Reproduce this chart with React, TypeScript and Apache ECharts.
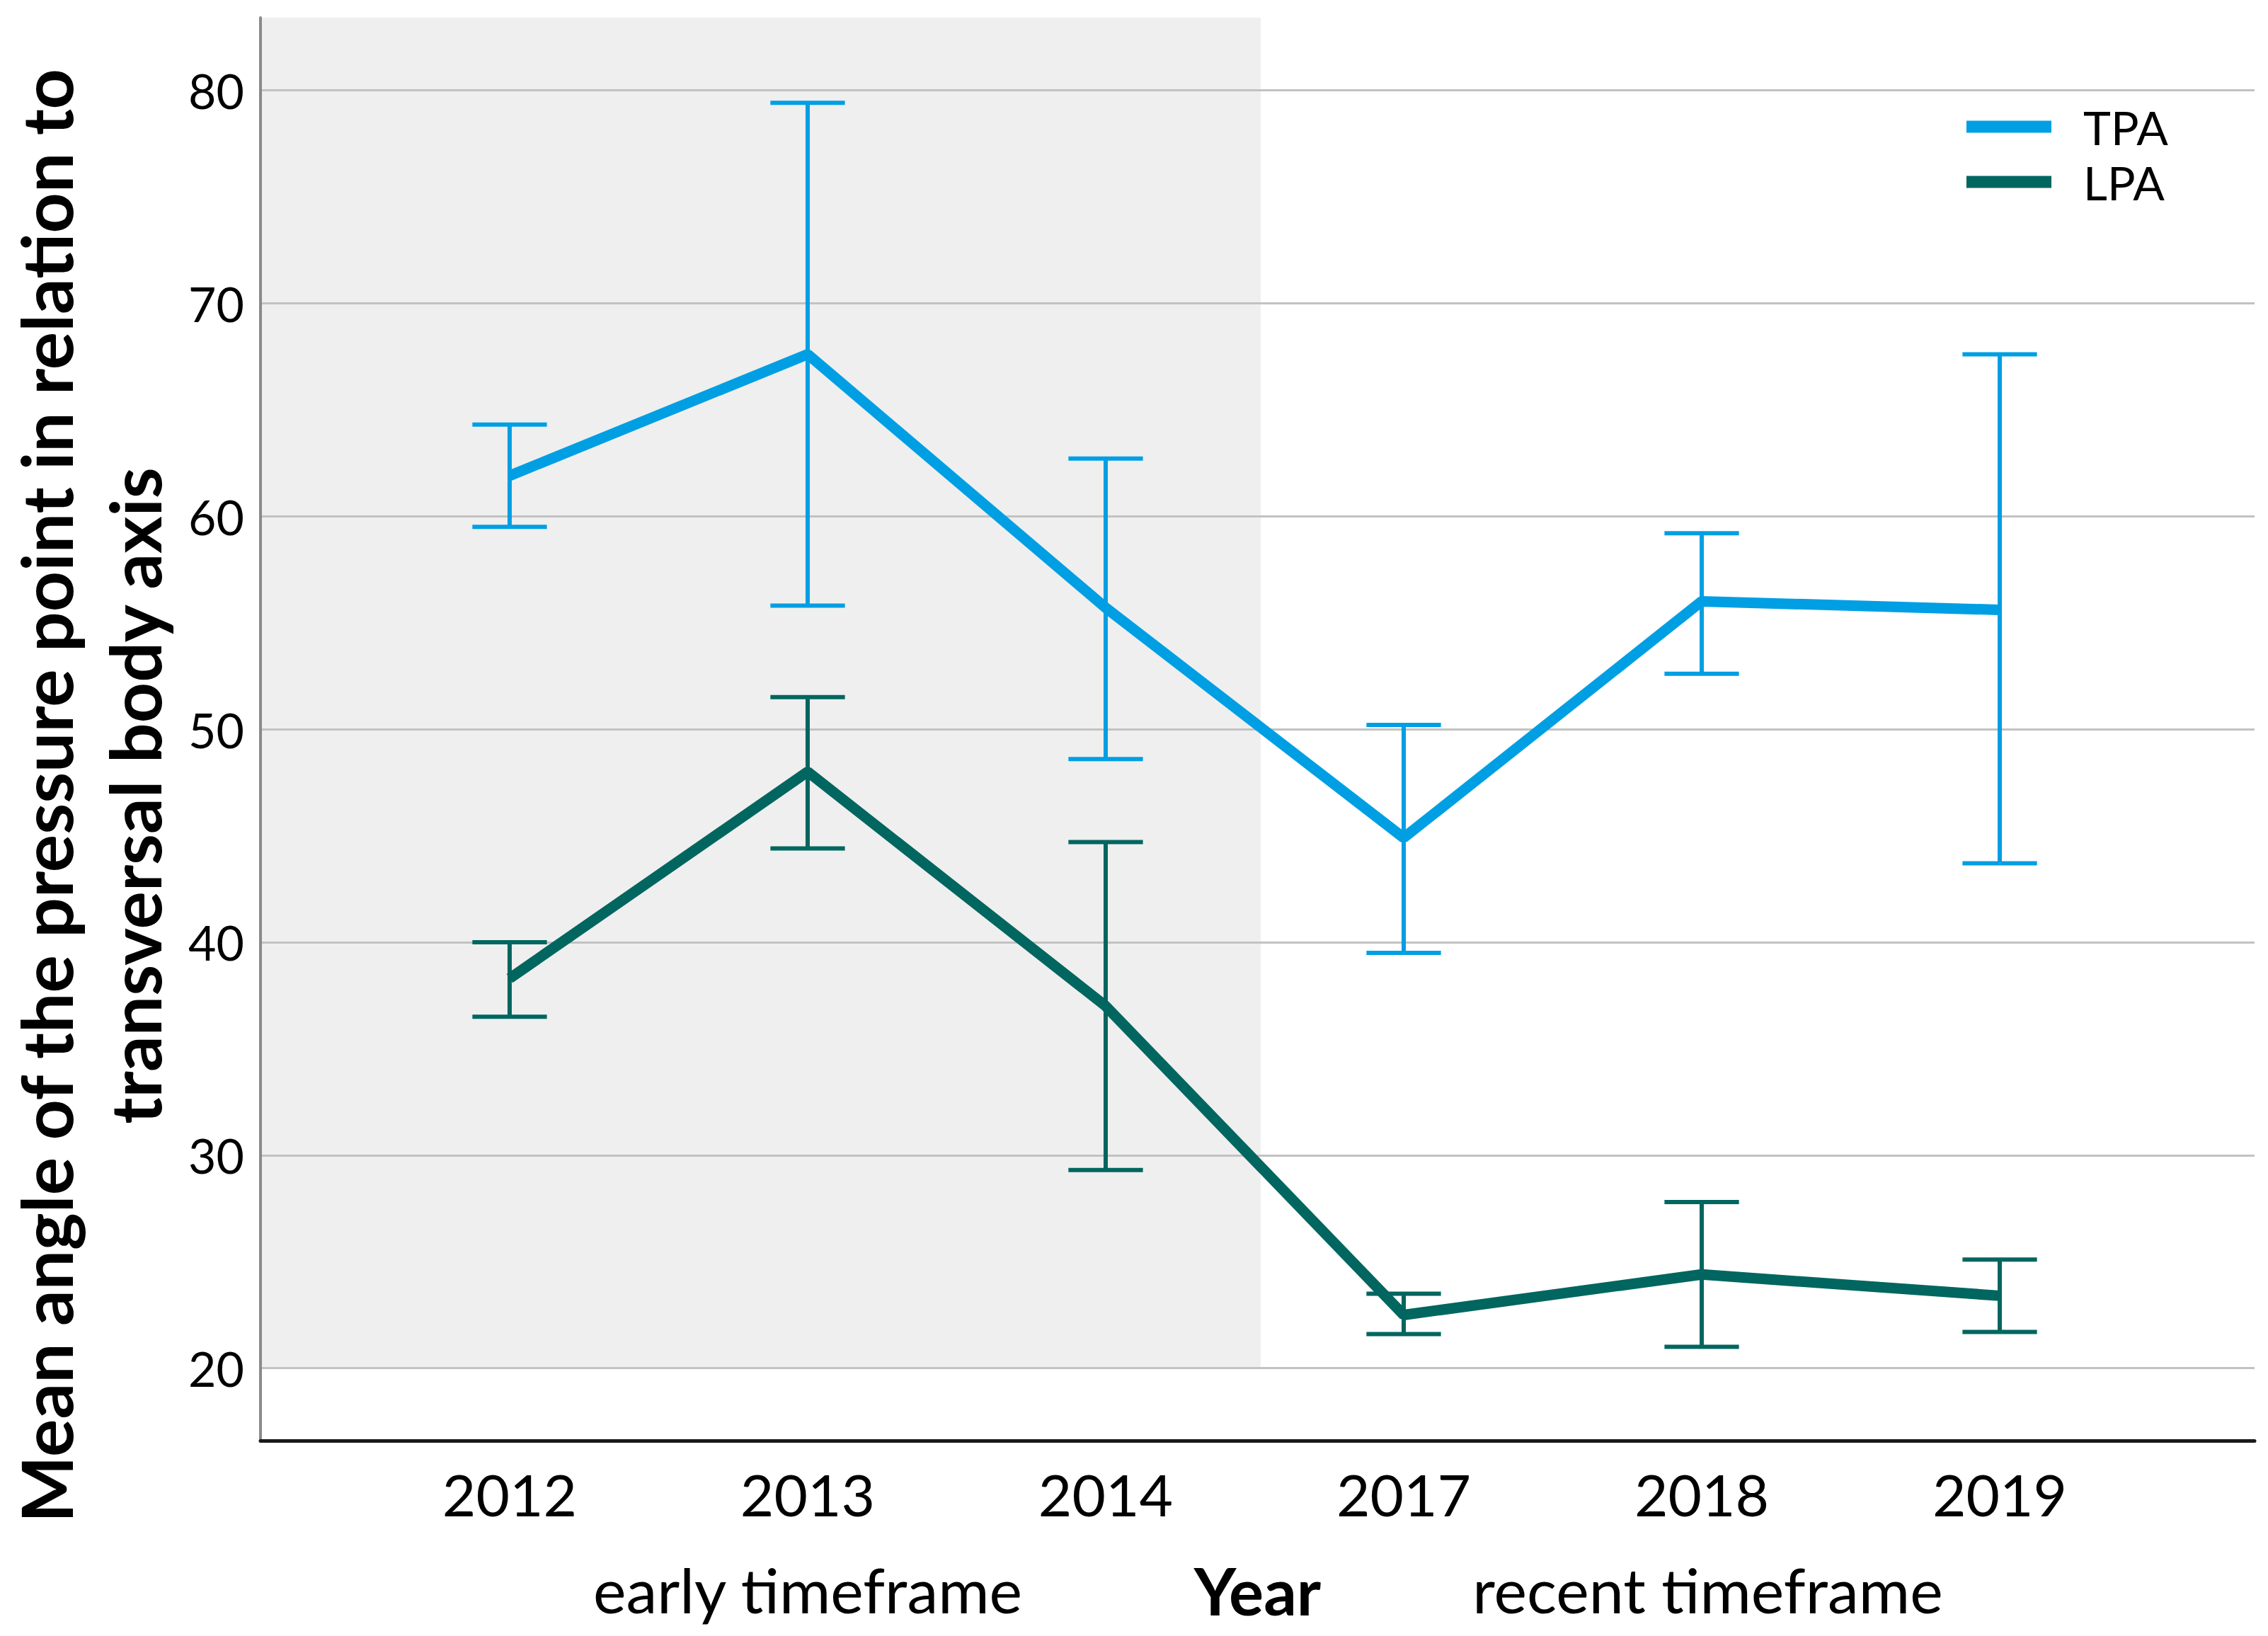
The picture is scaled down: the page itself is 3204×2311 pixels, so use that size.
import React, { useEffect, useRef } from "react";
import * as echarts from "echarts";

const YEARS = ["2012", "2013", "2014", "2017", "2018", "2019"];
const TIMEFRAMES = ["early timeframe", "recent timeframe"];
const Y_TICKS = [20, 30, 40, 50, 60, 70, 80];

const TPA_MEAN = [61.9, 67.6, 55.7, 44.9, 56.0, 55.6];
const TPA_LOW = [59.5, 55.8, 48.6, 39.5, 52.6, 43.7];
const TPA_HIGH = [64.3, 79.4, 62.7, 50.2, 59.2, 67.6];

const LPA_MEAN = [38.3, 48.0, 37.0, 22.5, 24.4, 23.4];
const LPA_LOW = [36.5, 44.4, 29.3, 21.6, 21.0, 21.7];
const LPA_HIGH = [40.0, 51.5, 44.7, 23.5, 27.8, 25.1];

const Y_TITLE = [
  "Mean angle of the pressure point in relation to",
  "transversal body axis",
];

const TPA_COLOR = "#009FE3";
const LPA_COLOR = "#00665F";

const X_MIN = -0.836;
const X_MAX = 5.855;
const Y_MIN = 16.6;
const Y_MAX = 83.4;
const SHADE_END = 2.52;
const SHADE_BOTTOM = 20;

const FONT = "Lato";

function App() {
  const ref = useRef<HTMLDivElement>(null);

  useEffect(() => {
    document.body.style.margin = "0";
    if (!ref.current) return;
    const chart = echarts.init(ref.current, undefined, { renderer: "svg" });

    const meanData = (arr: number[]) => arr.map((v, i) => [i, v]);
    const barData = (lo: number[], hi: number[]) =>
      lo.map((v, i) => [i, v, hi[i]]);

    const errorSeries = (name: string, lo: number[], hi: number[], color: string) => ({
      type: "custom",
      name: name + " CI",
      z: 2,
      silent: true,
      data: barData(lo, hi),
      encode: { x: 0, y: [1, 2] },
      renderItem: (params: any, api: any) => {
        const x = api.value(0);
        const pLo = api.coord([x, api.value(1)]);
        const pHi = api.coord([x, api.value(2)]);
        const half = api.size([1, 0])[0] * 0.125;
        const style = { stroke: color, lineWidth: 6 };
        return {
          type: "group",
          children: [
            { type: "line", shape: { x1: pLo[0], y1: pLo[1], x2: pHi[0], y2: pHi[1] }, style },
            { type: "line", shape: { x1: pHi[0] - half, y1: pHi[1], x2: pHi[0] + half, y2: pHi[1] }, style },
            { type: "line", shape: { x1: pLo[0] - half, y1: pLo[1], x2: pLo[0] + half, y2: pLo[1] }, style },
          ],
        };
      },
    });

    const option: any = {
      animation: false,
      backgroundColor: "#ffffff",
      textStyle: { fontFamily: FONT },
      grid: { left: 368, right: 19, top: 25, bottom: 276, containLabel: false },
      legend: {
        orient: "vertical",
        left: 2773,
        top: 139,
        itemWidth: 120,
        itemHeight: 17,
        itemGap: 8,
        data: [
          { name: "TPA", icon: "rect" },
          { name: "LPA", icon: "rect" },
        ],
        textStyle: {
          fontFamily: FONT,
          fontSize: 66,
          lineHeight: 70,
          color: "#000",
          padding: [0, 0, 0, 40],
        },
      },
      xAxis: [
        {
          type: "value",
          min: X_MIN,
          max: X_MAX,
          position: "bottom",
          z: 3,
          axisLine: { show: true, onZero: false, lineStyle: { color: "#1a1a1a", width: 5 } },
          axisTick: { show: false, customValues: YEARS.map((_, i) => i) },
          splitLine: { show: false },
          axisLabel: {
            customValues: YEARS.map((_, i) => i),
            formatter: (v: number) => YEARS[Math.round(v)] ?? "",
            fontFamily: FONT,
            fontSize: 82,
            color: "#000",
            margin: 34,
          },
          name: "Year",
          nameLocation: "middle",
          nameGap: 165,
          nameTextStyle: { fontFamily: FONT, fontWeight: "bold", fontSize: 92, color: "#000" },
        },
        {
          type: "value",
          min: X_MIN,
          max: X_MAX,
          position: "bottom",
          offset: 0,
          axisLine: { show: false, onZero: false },
          axisTick: { show: false, customValues: [1, 4.02] },
          splitLine: { show: false },
          axisLabel: {
            customValues: [1, 4.02],
            formatter: (v: number) => (v < SHADE_END ? TIMEFRAMES[0] : TIMEFRAMES[1]),
            fontFamily: FONT,
            fontSize: 88,
            color: "#000",
            margin: 166,
          },
        },
      ],
      yAxis: {
        type: "value",
        min: Y_MIN,
        max: Y_MAX,
        z: 1.5,
        axisLine: { show: true, onZero: false, lineStyle: { color: "#8a8a8a", width: 4 } },
        axisTick: { show: false, customValues: Y_TICKS },
        axisLabel: {
          customValues: Y_TICKS,
          fontFamily: FONT,
          fontSize: 68,
          color: "#000",
          margin: 23,
        },
        splitLine: { show: true, lineStyle: { color: "#c2c2c2", width: 3 } },
      },
      graphic: [
        {
          type: "text",
          x: 126,
          y: 1124,
          rotation: Math.PI / 2,
          style: {
            text: Y_TITLE.join("\n"),
            fontFamily: FONT,
            fontWeight: "bold",
            fontSize: 100,
            lineHeight: 125,
            fill: "#000",
            align: "center",
            verticalAlign: "middle",
          },
        },
      ],
      series: [
        {
          type: "line",
          name: "Shade",
          data: [],
          silent: true,
          markArea: {
            silent: true,
            z: 1,
            itemStyle: { color: "#efefef" },
            data: [[{ xAxis: X_MIN, yAxis: SHADE_BOTTOM }, { xAxis: SHADE_END, yAxis: Y_MAX }]],
          },
        },
        errorSeries("TPA", TPA_LOW, TPA_HIGH, TPA_COLOR),
        errorSeries("LPA", LPA_LOW, LPA_HIGH, LPA_COLOR),
        {
          type: "line",
          name: "TPA",
          z: 3,
          data: meanData(TPA_MEAN),
          showSymbol: false,
          symbol: "none",
          color: TPA_COLOR,
          lineStyle: { color: TPA_COLOR, width: 15 },
          itemStyle: { color: TPA_COLOR },
        },
        {
          type: "line",
          name: "LPA",
          z: 3,
          data: meanData(LPA_MEAN),
          showSymbol: false,
          symbol: "none",
          color: LPA_COLOR,
          lineStyle: { color: LPA_COLOR, width: 15 },
          itemStyle: { color: LPA_COLOR },
        },
      ],
    };

    chart.setOption(option);
    return () => chart.dispose();
  }, []);

  return <div ref={ref} style={{ width: 3204, height: 2311 }} />;
}

export default App;
